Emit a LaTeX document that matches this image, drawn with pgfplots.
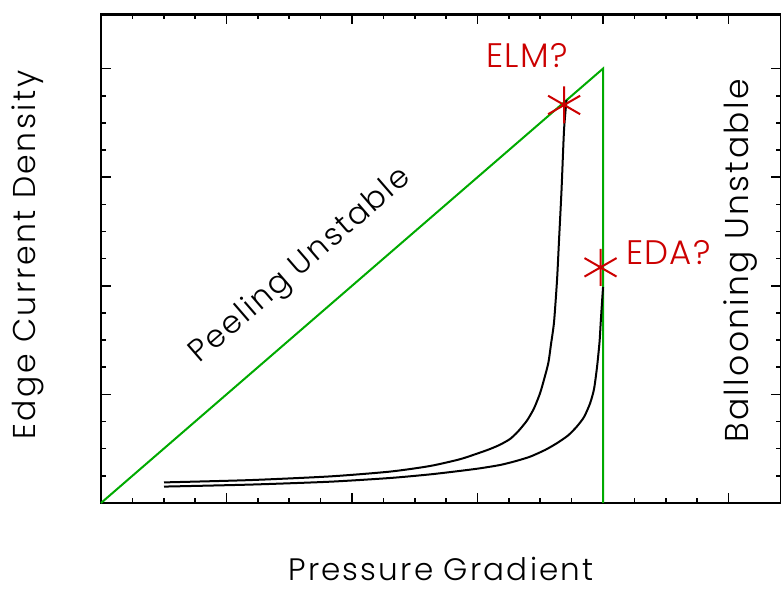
\documentclass[border=0pt]{standalone}
\usepackage{fontspec}
\setmainfont{Poppins}[UprightFont={* Light}]
\usepackage{pgfplots}
\pgfplotsset{compat=1.18}
\definecolor{pgreen}{RGB}{0,170,0}
\definecolor{pred}{RGB}{204,0,0}
\newcommand{\lbl}{\fontsize{31}{36}\selectfont\addfontfeature{LetterSpace=6}}
\newcommand{\ann}{\fontsize{34}{40}\selectfont\addfontfeature{LetterSpace=4}}
\begin{document}
\begin{tikzpicture}
\begin{axis}[
  scale only axis, width=680pt, height=488.7pt,
  xmin=0, xmax=5.418, ymin=0, ymax=4.5,
  xtick={0,...,5}, ytick={0,...,4},
  minor x tick num=3, minor y tick num=3,
  xticklabels={}, yticklabels={},
  major tick length=10pt, minor tick length=5pt,
  tick style={black, line width=1.6pt},
  axis line style={black, line width=2.6pt},
  clip=false,
]
\addplot[pgreen, line width=2pt] coordinates {(0,0) (4,4) (4,0)};
\addplot[black, line width=2pt, smooth, tension=0.4] coordinates {
(0.5020,0.1897) (1.1873,0.2109) (1.8247,0.2449) (2.3028,0.2891) (2.6215,0.3407)
(2.8606,0.4033) (3.0199,0.4641) (3.0996,0.4972) (3.1793,0.5368) (3.2590,0.5893)
(3.3227,0.6584) (3.3944,0.7597) (3.4502,0.8720) (3.4980,1.0101) (3.5299,1.1372)
(3.5641,1.2891) (3.5857,1.4641) (3.6096,1.6667) (3.6335,2.0534) (3.6494,2.4217)
(3.6693,2.8821) (3.6892,3.4346) (3.7092,3.7109)};
\addplot[black, line width=2pt, smooth, tension=0.4] coordinates {
(0.5020,0.1510) (1.1873,0.1694) (1.8247,0.1961) (2.3028,0.2302) (2.6215,0.2634)
(2.8606,0.2956) (3.0199,0.3195) (3.1793,0.3499) (3.2988,0.3840) (3.4183,0.4263)
(3.5378,0.4880) (3.6311,0.5497) (3.7211,0.6215) (3.7904,0.7026) (3.8486,0.7919)
(3.8964,0.9162) (3.9283,1.0497) (3.9522,1.2523) (3.9721,1.4825) (3.9817,1.6667)
(3.9920,1.8508) (4.0000,1.9890)};
\addplot[only marks, mark=asterisk, mark size=18.5pt, pred, mark options={line width=2pt}] coordinates {(3.69,3.665) (3.98,2.17)};
\node[pred, anchor=center] at (axis cs:3.394,4.116) {\ann ELM?};
\node[pred, anchor=center] at (axis cs:4.522,2.307) {\ann EDA?};
\node[black, anchor=center, rotate=40.9] at (axis cs:1.594,2.18) {\lbl Peeling Unstable};
\node[black, anchor=center, rotate=90] at (axis cs:5.092,2.228) {\fontsize{33}{38}\selectfont\addfontfeature{LetterSpace=7}Ballooning Unstable};
\node[black, anchor=base, inner sep=0pt] at ([yshift=-77pt]axis description cs:0.5,0) {\fontsize{31}{36}\selectfont\addfontfeature{LetterSpace=7}Pressure Gradient};
\node[black, anchor=center, rotate=90, inner sep=0pt] at ([xshift=-73pt]axis description cs:0,0.5075) {\fontsize{31.5}{36}\selectfont\addfontfeature{LetterSpace=8}Edge Current Density};
\end{axis}
\pgfresetboundingbox
\path[use as bounding box] (-101pt,-101pt) rectangle (680pt,503pt);
\end{tikzpicture}
\end{document}
